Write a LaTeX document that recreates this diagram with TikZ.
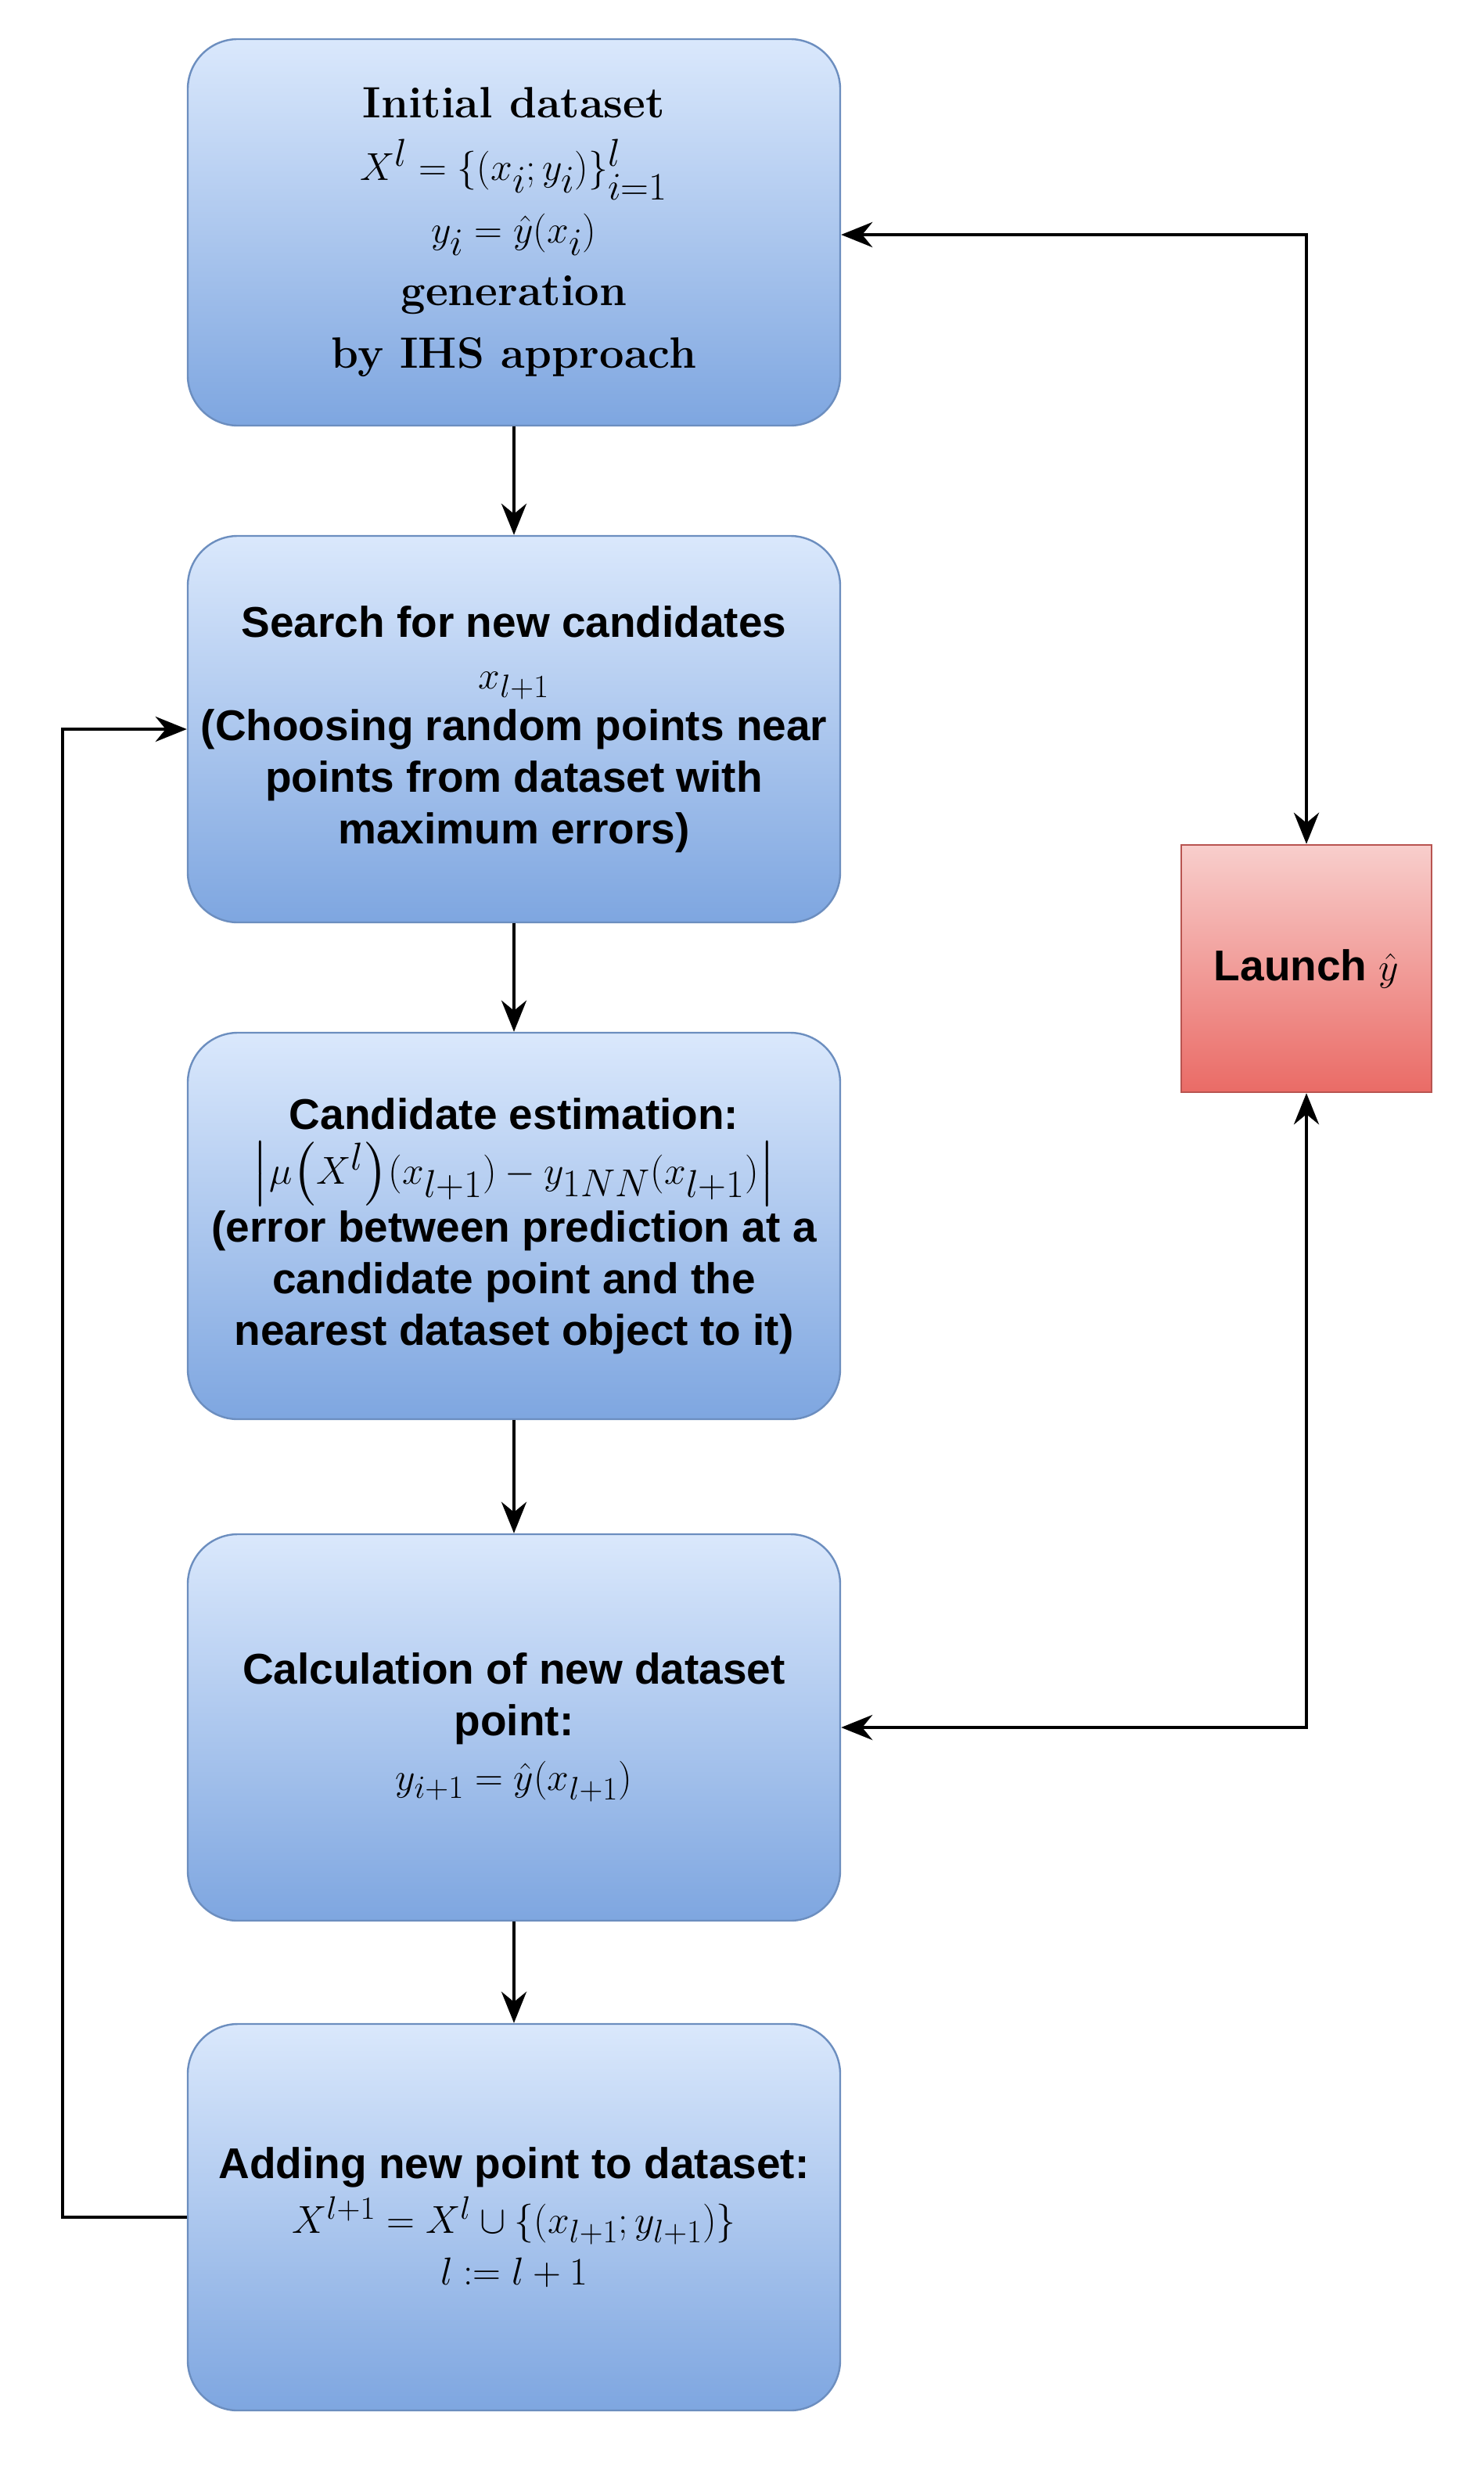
\documentclass[tikz,border=0pt]{standalone}
\usepackage{fontspec}
\usepackage{amsmath,amssymb}
\newfontfamily\sansb{Liberation Sans}
\usetikzlibrary{arrows.meta}
\definecolor{btop}{HTML}{DAE8FC}\definecolor{bbot}{HTML}{7EA6E0}\definecolor{bdr}{HTML}{6C8EBF}
\definecolor{rtop}{HTML}{F8CECC}\definecolor{rbot}{HTML}{EA6B66}\definecolor{rdr}{HTML}{B85450}
\newcommand{\mysz}[2]{{\fontsize{#1}{#1}\selectfont$#2$}}
\begin{document}
\begin{tikzpicture}[x=1pt,y=-1pt,
  box/.style={draw=bdr,line width=1.2pt,rounded corners=32pt,top color=btop,bottom color=bbot,
    minimum width=417pt,minimum height=247pt,align=center,inner sep=2pt,
    font=\sansb\bfseries\fontsize{27.5}{33}\selectfont},
  arr/.style={line width=2.4pt,-{Stealth[length=20pt,width=16pt]}}]
\useasboundingbox (0,0) rectangle (948,1576);
\node[box,font=\bfseries\fontsize{28}{40}\selectfont] (b1) at (328.5,148.5) {Initial dataset\\ \mysz{33}{X^l=\{(x_i;y_i)\}_{i=1}^l}\\ \mysz{33}{y_i=\hat y(x_i)}\\ generation\\ by IHS approach};
\node[box] (b2) at (328.5,466) {Search for new candidates\\ \mysz{32}{x_{l+1}}\\ (Choosing random points near\\ points from dataset with\\ maximum errors)};
\node[box] (b3) at (328.5,783.5) {Candidate estimation:\\[2pt] \mysz{34}{\bigl|\mu\bigl(X^l\bigr)(x_{l+1})-y_{1NN}(x_{l+1})\bigr|}\\[2pt] (error between prediction at a\\ candidate point and the\\ nearest dataset object to it)};
\node[box] (b4) at (328.5,1104) {Calculation of new dataset\\ point:\\[2pt] \mysz{32}{y_{i+1}=\hat y(x_{l+1})}};
\node[box] (b5) at (328.5,1417) {Adding new point to dataset:\\[2pt] \mysz{32}{X^{l+1}=X^l\cup\{(x_{l+1};y_{l+1})\}}\\ \mysz{32}{l:=l+1}};
\node[draw=rdr,line width=1.2pt,top color=rtop,bottom color=rbot,minimum width=160pt,minimum height=158pt,
  font=\sansb\bfseries\fontsize{27.5}{30}\selectfont] (L) at (835,619) {Launch \mysz{32}{\hat y}};
\coordinate (c1) at (835,150); \coordinate (c2) at (835,1104);
\coordinate (c3) at (40,1417); \coordinate (c4) at (40,466);
\draw[arr] (b1) -- (b2);
\draw[arr] (b2) -- (b3);
\draw[arr] (b3) -- (b4);
\draw[arr] (b4) -- (b5);
\draw[arr,{Stealth[length=20pt,width=16pt]}-{Stealth[length=20pt,width=16pt]}] (b1.east|-c1) -- (c1) -- (L.north);
\draw[arr,{Stealth[length=20pt,width=16pt]}-{Stealth[length=20pt,width=16pt]}] (L.south) -- (c2) -- (b4.east);
\draw[arr] (b5.west) -- (c3) -- (c4) -- (b2.west);
\end{tikzpicture}
\end{document}
